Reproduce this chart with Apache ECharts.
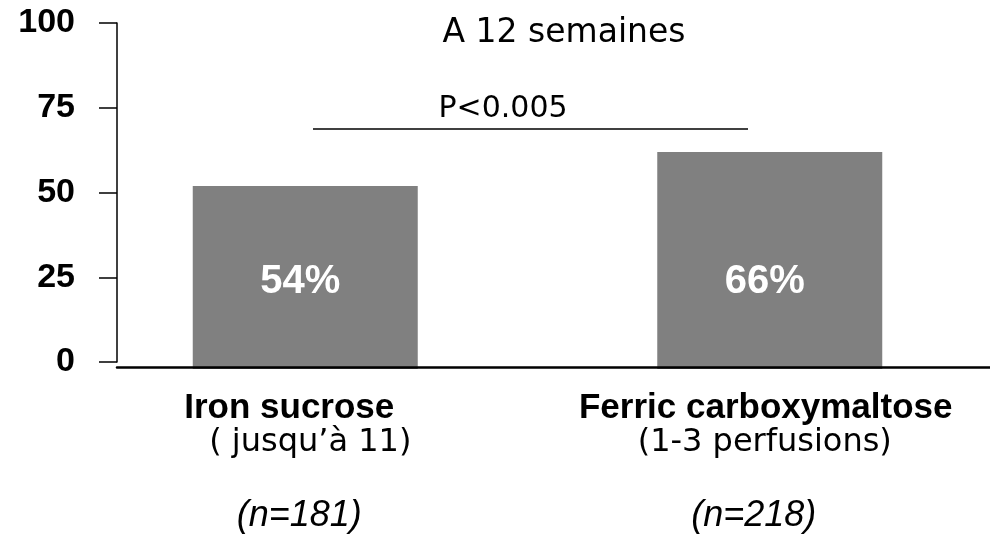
<!DOCTYPE html>
<html>
<head>
<meta charset="utf-8">
<script src="https://cdn.jsdelivr.net/npm/echarts@6/dist/echarts.min.js"></script>
<style>html,body{margin:0;padding:0;background:#fff}#chart{width:990px;height:543px}</style>
</head>
<body>
<div id="chart"></div>
<script>
// ---- data ----
var categories = ['Iron sucrose', 'Ferric carboxymaltose'];
var subLabels = ['( jusqu\u2019à 11)', '(1-3 perfusions)'];
var nLabels = ['(n=181)', '(n=218)'];
var barValues = [54, 64];
var pctLabels = ['54%', '66%'];
var yTicks = [0, 25, 50, 75, 100];
var titleText = 'A 12 semaines';
var pText = 'P<0.005';

var chart = echarts.init(document.getElementById('chart'), null, {renderer: 'canvas'});

var BOLD = 'Liberation Sans';
var REG = 'DejaVu Sans';

// per-category horizontal fine shift of label lines [bold, regular, italic]
var shifts = [[-16, 5, -6], [-4, -5, -16]];
var rich = {};
[0, 1].forEach(function (i) {
  function pad(d) { return d >= 0 ? [0, 0, 0, 2 * d] : [0, -2 * d, 0, 0]; }
  rich['b' + i] = {fontFamily: BOLD, fontWeight: 'bold', fontSize: 35, lineHeight: 36, color: '#000', align: 'center', padding: pad(shifts[i][0])};
  rich['r' + i] = {fontFamily: REG, fontSize: 32, lineHeight: 34, color: '#000', align: 'center', padding: pad(shifts[i][1])};
  rich['i' + i] = {fontFamily: BOLD, fontStyle: 'italic', fontSize: 36, lineHeight: 40, color: '#000', align: 'center', padding: pad(shifts[i][2])};
});
rich.g = {fontSize: 1, lineHeight: 36};

var option = {
  backgroundColor: '#fff',
  animation: false,
  grid: [
    {left: 117, top: 23, height: 339, right: 0, outerBoundsMode: 'none', containLabel: false},
    {left: 73, top: 30, height: 339, width: 929, outerBoundsMode: 'none', containLabel: false}
  ],
  xAxis: [
    {
      gridIndex: 0, type: 'category', data: categories, offset: 5, z: 5,
      axisLine: {show: true, onZero: false, lineStyle: {color: '#000', width: 2.5}},
      axisTick: {show: false}, axisLabel: {show: false}, splitLine: {show: false}
    },
    {
      gridIndex: 1, type: 'category', data: categories,
      axisLine: {show: false, onZero: false}, axisTick: {show: false}, splitLine: {show: false},
      axisLabel: {
        margin: 21,
        interval: 0,
        formatter: function (v, idx) {
          return '{b' + idx + '|' + v + '}\n{r' + idx + '|' + subLabels[idx] + '}\n{g| }\n{i' + idx + '|' + nLabels[idx] + '}';
        },
        rich: rich
      }
    }
  ],
  yAxis: [
    {
      gridIndex: 0, type: 'value', min: 0, max: 100, interval: 25,
      axisLine: {show: true, lineStyle: {color: '#000', width: 1.5}},
      axisTick: {show: true, inside: false, length: 18, lineStyle: {color: '#000', width: 1.5}},
      splitLine: {show: false},
      axisLabel: {
        margin: 42, color: '#000', fontFamily: BOLD, fontWeight: 'bold', fontSize: 34,
        customValues: yTicks
      }
    },
    {
      gridIndex: 1, type: 'value', min: 0, max: 100, show: false
    }
  ],
  series: [
    {
      type: 'bar', xAxisIndex: 1, yAxisIndex: 1, data: barValues, barWidth: 225,
      itemStyle: {color: '#808080'},
      z: 2,
      label: {
        show: true, position: 'insideBottom', distance: 67, offset: [-5, 0],
        color: '#fff', fontFamily: BOLD, fontWeight: 'bold', fontSize: 40, lineHeight: 40,
        formatter: function (p) { return pctLabels[p.dataIndex]; }
      }
    }
  ],
  graphic: [
    {type: 'text', x: 564, y: 33, z: 10, style: {text: titleText, fill: '#000', font: '33px "DejaVu Sans"', textAlign: 'center', textVerticalAlign: 'middle'}},
    {type: 'text', x: 503, y: 109, z: 10, style: {text: pText, fill: '#000', font: '30px "DejaVu Sans"', textAlign: 'center', textVerticalAlign: 'middle'}},
    {type: 'line', z: 10, shape: {x1: 313, y1: 129, x2: 748, y2: 129}, style: {stroke: '#000', lineWidth: 1.5}}
  ]
};
chart.setOption(option);
</script>
</body>
</html>
